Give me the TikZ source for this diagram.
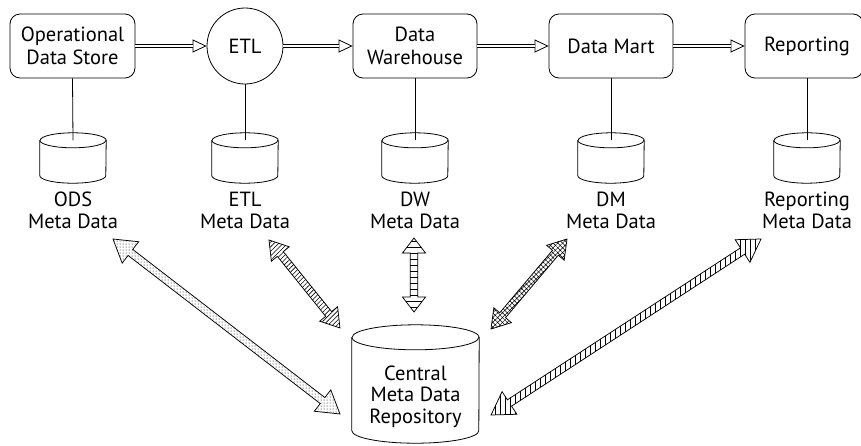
\documentclass[tikz,border=0pt]{standalone}
\usepackage{fontspec}
\setmainfont{PT Sans}
\usetikzlibrary{arrows.meta,patterns,patterns.meta,calc}

\tikzset{
  every picture/.style={x=1pt,y=1pt},
  stage/.style={draw, line width=0.8pt, rounded corners=10pt, minimum height=64pt,
    inner sep=0pt, align=center, font=\fontsize{20.5}{23}\selectfont},
  process/.style={draw, line width=0.8pt, circle, minimum size=76pt, inner sep=0pt,
    font=\fontsize{20.5}{23}\selectfont},
  caption/.style={align=center, inner sep=0pt, anchor=base,
    font=\fontsize{20.5}{22}\selectfont},
  drumline/.style={line width=0.8pt},
  stem/.style={line width=0.8pt},
  flow/.style={double, double distance=2.4pt, line width=0.8pt, shorten >=13.6pt},
  flowtip/.style={line width=0.8pt, -{Triangle[open,length=14pt,width=13pt]}},
  metaarrow/.style={line width=0.75pt, line join=miter, pattern color=black},
}

% cylinder: name, centre x, centre y, width, height, ellipse y radius
\newcommand\drum[6]{%
  \node[inner sep=0pt, minimum width=#4pt, minimum height=#5pt] (#1) at (#2,#3) {};
  \coordinate (#1-top) at ($(#1.north)+(0,-#6)$);
  \draw[drumline] ([yshift=-#6pt]#1.north west) -- ([yshift=#6pt]#1.south west)
    arc[start angle=180, end angle=360, x radius=#4/2, y radius=#6]
    -- ([yshift=-#6pt]#1.north east)
    arc[start angle=0, end angle=180, x radius=#4/2, y radius=#6];
  \draw[drumline] ([yshift=-#6pt]#1.north west)
    arc[start angle=180, end angle=360, x radius=#4/2, y radius=#6];
}

% two-headed block arrow: fill style, from, to, head length, head half width
\newcommand\shaftw{3.8}
\newcommand\metalink[5]{%
  \path (#2); \pgfgetlastxy{\maAx}{\maAy}
  \path (#3); \pgfgetlastxy{\maBx}{\maBy}
  \pgfmathsetmacro\maLen{veclen(\maBx-\maAx,\maBy-\maAy)}
  \pgfmathsetmacro\maAng{atan2(\maBy-\maAy,\maBx-\maAx)}
  \pgfmathsetmacro\maEnd{\maLen-#4}
  \draw[metaarrow,#1,shift={(#2)},rotate=\maAng]
    (0,0) -- (#4,#5) -- (#4,\shaftw) -- (\maEnd,\shaftw) -- (\maEnd,#5) -- (\maLen,0)
    -- (\maEnd,-#5) -- (\maEnd,-\shaftw) -- (#4,-\shaftw) -- (#4,-#5) -- cycle;
}

\begin{document}
\begin{tikzpicture}
\useasboundingbox (0,0) rectangle (861,-445);
\clip (0,0) rectangle (861,-445);

% pipeline stages
\node[stage, minimum width=125pt] (ods) at (72.5,-46) {Operational\\Data Store};
\node[process] (etl) at (245,-46) {ETL};
\node[stage, minimum width=124pt] (dw) at (415,-46) {Data\\Warehouse};
\node[stage, minimum width=124pt] (dm) at (611,-46) {Data Mart};
\node[stage, minimum width=118pt] (rep) at (804,-46) {\hspace*{6pt}Reporting};

\foreach \a/\b in {ods/etl, etl/dw, dw/dm, dm/rep}{
  \draw[flowtip] (\a.east) -- (\b.west);
  \draw[flow] (\a.east) -- (\b.west);
}

% meta data stores
\drum{odsdb}{73}{-158}{66}{50}{7.5}
\drum{etldb}{245}{-158}{66}{50}{7.5}
\drum{dwdb}{415}{-158}{66}{50}{7.5}
\drum{dmdb}{611}{-158}{66}{50}{7.5}
\drum{repdb}{807}{-158}{66}{50}{7.5}

\draw[stem] (ods.south) -- (odsdb-top);
\draw[stem] (etl.south) -- (etldb-top);
\draw[stem] (dw.south) -- (dwdb-top);
\draw[stem] (dm.south) -- (dmdb-top);
\draw[stem] (rep.south -| repdb-top) -- (repdb-top);

% captions are placed by the baseline of their last line
\node[caption] (odscap) at (73,-228) {ODS\\Meta Data};
\node[caption] (etlcap) at (245,-228) {ETL\\Meta Data};
\node[caption] (dwcap) at (415,-228) {DW\\Meta Data};
\node[caption] (dmcap) at (611,-228) {DM\\Meta Data};
\node[caption] (repcap) at (807,-228) {Reporting\\Meta Data};

% central repository
\drum{central}{415.5}{-384}{127}{118}{12.5}
\node[caption, font=\fontsize{20.5}{21.5}\selectfont] (centralcap) at (415.5,-423)
  {Central\\Meta Data\\Repository};

% exchange arrows
\coordinate (odsend) at (113,-239);
\coordinate (odsin) at (340,-414);
\coordinate (etlend) at (269,-240);
\coordinate (etlin) at (340,-328);
\coordinate (dwend) at (414,-238);
\coordinate (dwin) at (414,-312);
\coordinate (dmend) at (567,-239);
\coordinate (dmin) at (491,-329);
\coordinate (repend) at (761,-239);
\coordinate (repin) at (491,-415);

\metalink{pattern={Dots[distance=3pt,radius=0.5pt]}}{odsend}{odsin}{22}{13.5}
\metalink{pattern={Lines[angle=45,distance=3.2pt,line width=0.6pt]}}{etlend}{etlin}{18}{11.5}
\metalink{pattern={Lines[angle=0,distance=6pt,line width=0.6pt]}}{dwend}{dwin}{15}{11.5}
\metalink{pattern={Hatch[angle=45,distance=3.4pt,line width=0.5pt]}}{dmend}{dmin}{18}{11.5}
\metalink{pattern={Lines[angle=90,distance=5pt,line width=0.6pt]}}{repend}{repin}{22}{13.5}
\end{tikzpicture}
\end{document}
